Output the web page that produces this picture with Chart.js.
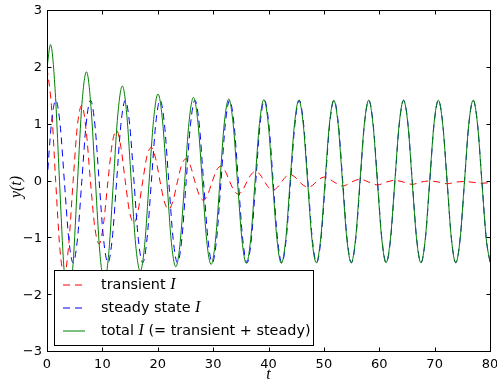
<!DOCTYPE html>
<html>
<head>
<meta charset="utf-8">
<script src="https://cdn.jsdelivr.net/npm/chart.js@4.4.1/dist/chart.umd.min.js"></script>
<style>
  html, body { margin: 0; padding: 0; background: #fff; }
  canvas { display: block; }
</style>
</head>
<body>
<canvas id="myChart" width="497" height="380"></canvas>
<script>
// tick labels
var xTicks = [0, 10, 20, 30, 40, 50, 60, 70, 80];
var yTicks = [-3, -2, -1, 0, 1, 2, 3];

// steady state I
var steadyT = [
  0, 0.79, 1.57, 2.36, 3.14, 3.93, 4.71, 5.50,
  6.28, 7.07, 7.85, 8.64, 9.42, 10.21, 11.00, 11.78,
  12.57, 13.35, 14.14, 14.92, 15.71, 16.49, 17.28, 18.06,
  18.85, 19.63, 20.42, 21.21, 21.99, 22.78, 23.56, 24.35,
  25.13, 25.92, 26.70, 27.49, 28.27, 29.06, 29.85, 30.63,
  31.42, 32.20, 32.99, 33.77, 34.56, 35.34, 36.13, 36.91,
  37.70, 38.48, 39.27, 40.06, 40.84, 41.63, 42.41, 43.20,
  43.98, 44.77, 45.55, 46.34, 47.12, 47.91, 48.69, 49.48,
  50.27, 51.05, 51.84, 52.62, 53.41, 54.19, 54.98, 55.76,
  56.55, 57.33, 58.12, 58.90, 59.69, 60.48, 61.26, 62.05,
  62.83, 63.62, 64.40, 65.19, 65.97, 66.76, 67.54, 68.33,
  69.12, 69.90, 70.69, 71.47, 72.26, 73.04, 73.83, 74.61,
  75.40, 76.18, 76.97, 77.75, 78.54, 79.33, 80
];
var steadyI = [
  0, 1.01, 1.43, 1.01, 0, -1.01, -1.43, -1.01,
  0, 1.01, 1.43, 1.01, 0, -1.01, -1.43, -1.01,
  0, 1.01, 1.43, 1.01, 0, -1.01, -1.43, -1.01,
  0, 1.01, 1.43, 1.01, 0, -1.01, -1.43, -1.01,
  0, 1.01, 1.43, 1.01, 0, -1.01, -1.43, -1.01,
  0, 1.01, 1.43, 1.01, 0, -1.01, -1.43, -1.01,
  0, 1.01, 1.43, 1.01, 0, -1.01, -1.43, -1.01,
  0, 1.01, 1.43, 1.01, 0, -1.01, -1.43, -1.01,
  0, 1.01, 1.43, 1.01, 0, -1.01, -1.43, -1.01,
  0, 1.01, 1.43, 1.01, 0, -1.01, -1.43, -1.01,
  0, 1.01, 1.43, 1.01, 0, -1.01, -1.43, -1.01,
  0, 1.01, 1.43, 1.01, 0, -1.01, -1.43, -1.01,
  0, 1.01, 1.43, 1.01, 0, -1.01, -1.42
];

// transient I
var transT = [
  0, 0.79, 1.57, 2.36, 3.14, 3.93, 4.71, 5.50,
  6.28, 7.07, 7.85, 8.64, 9.42, 10.21, 11.00, 11.78,
  12.57, 13.35, 14.14, 14.92, 15.71, 16.49, 17.28, 18.06,
  18.85, 19.63, 20.42, 21.21, 21.99, 22.78, 23.56, 24.35,
  25.13, 25.92, 26.70, 27.49, 28.27, 29.06, 29.85, 30.63,
  31.42, 32.20, 32.99, 33.77, 34.56, 35.34, 36.13, 36.91,
  37.70, 38.48, 39.27, 40.06, 40.84, 41.63, 42.41, 43.20,
  43.98, 44.77, 45.55, 46.34, 47.12, 47.91, 48.69, 49.48,
  50.27, 51.84, 53.41, 54.98, 56.55, 58.12, 59.69, 61.26,
  62.83, 64.40, 65.97, 67.54, 69.12, 70.69, 72.26, 73.83,
  75.40, 76.97, 78.54, 80
];
var transI = [
  2.00, 1.34, 0, -1.22, -1.64, -1.10, 0, 0.99,
  1.34, 0.90, 0, -0.81, -1.10, -0.74, 0, 0.67,
  0.90, 0.60, 0, -0.54, -0.73, -0.49, 0, 0.45,
  0.60, 0.40, 0, -0.36, -0.49, -0.33, 0, 0.30,
  0.40, 0.27, 0, -0.24, -0.33, -0.22, 0, 0.20,
  0.27, 0.18, 0, -0.16, -0.22, -0.15, 0, 0.13,
  0.18, 0.12, 0, -0.11, -0.15, -0.10, 0, 0.09,
  0.12, 0.08, 0, -0.07, -0.10, -0.07, 0, 0.06,
  0.08, -0.01, -0.08, -0.01, 0.04, -0.01, -0.06, -0.01,
  0.02, -0.01, -0.05, -0.01, 0.01, -0.01, -0.04, -0.01,
  0.00, -0.015, -0.03, -0.02
];

// total I (= transient + steady)
var totalT = [
  0, 0.64, 1.45, 2.26, 3.07, 3.88, 4.70, 5.51,
  6.32, 7.13, 7.94, 8.75, 9.56, 10.37, 11.18, 11.99,
  12.80, 13.61, 14.42, 15.22, 16.03, 16.84, 17.64, 18.44,
  19.25, 20.05, 20.85, 21.66, 22.46, 23.26, 24.06, 24.86,
  25.65, 26.45, 27.25, 28.05, 28.84, 29.64, 30.43, 31.23,
  32.02, 32.82, 33.61, 34.40, 35.20, 35.99, 36.78, 37.57,
  38.37, 39.16, 39.95, 40.74, 41.53, 42.32, 43.11, 43.90,
  44.69, 45.48, 46.27, 47.06, 47.84, 48.63, 49.42, 50.21,
  51.00, 51.79, 52.57, 53.36, 54.15, 54.94, 55.72, 56.51,
  57.30, 58.09, 58.87, 59.66, 60.45, 61.23, 62.02, 62.81,
  63.60, 64.38, 65.17, 65.95, 66.74, 67.52, 68.31, 69.10,
  69.88, 70.67, 71.46, 72.25, 73.03, 73.82, 74.60, 75.39,
  76.17, 76.96, 77.74, 78.53, 79.32, 80
];
var totalI = [
  2.00, 2.41, 1.64, 0, -1.54, -2.12, -1.46, 0,
  1.38, 1.93, 1.32, 0, -1.27, -1.76, -1.23, 0,
  1.19, 1.68, 1.16, 0, -1.13, -1.58, -1.11, 0,
  1.09, 1.54, 1.08, 0, -1.07, -1.50, -1.06, 0,
  1.05, 1.48, 1.04, 0, -1.04, -1.46, -1.03, 0,
  1.03, 1.45, 1.02, 0, -1.02, -1.44, -1.02, 0,
  1.02, 1.44, 1.02, 0, -1.02, -1.44, -1.02, 0,
  1.01, 1.43, 1.01, 0, -1.01, -1.43, -1.01, 0,
  1.01, 1.43, 1.01, 0, -1.01, -1.43, -1.01, 0,
  1.01, 1.43, 1.01, 0, -1.01, -1.43, -1.01, 0,
  1.01, 1.43, 1.01, 0, -1.01, -1.43, -1.01, 0,
  1.01, 1.43, 1.01, 0, -1.01, -1.43, -1.01, 0,
  1.01, 1.43, 1.01, 0, -1.01, -1.42
];

var RED = '#ff0000', BLUE = '#0000ff', GREEN = '#008000';
var DASH = [7, 5];
var TEXT_FONT = '14.4px "DejaVu Sans"';
var MATH_FONT = 'italic 16px "Liberation Serif"';

function pts(ts, ys) {
    return ts.map(function (t, i) { return { x: t, y: ys[i] }; });
}

function line(ctx, x1, y1, x2, y2) {
    ctx.beginPath();
    ctx.moveTo(x1, y1);
    ctx.lineTo(x2, y2);
    ctx.stroke();
}

// draw pieces of text with different fonts one after another
function drawRuns(ctx, x, y, runs) {
    runs.forEach(function (r) {
        ctx.font = r[1];
        ctx.fillText(r[0], x, y);
        x += ctx.measureText(r[0]).width;
    });
}

var legendRows = [
    { color: RED, dash: DASH, runs: [['transient ', TEXT_FONT], ['I', MATH_FONT]] },
    { color: BLUE, dash: DASH, runs: [['steady state ', TEXT_FONT], ['I', MATH_FONT]] },
    { color: GREEN, dash: [], runs: [['total ', TEXT_FONT], ['I', MATH_FONT], [' (= transient + steady)', TEXT_FONT]] }
];

// frame, inward ticks, legend box and axis labels (matplotlib look)
var framePlugin = {
    id: 'frame',
    afterDraw: function (chart) {
        var ctx = chart.ctx, a = chart.chartArea;
        var xs = chart.scales.x, ys = chart.scales.y;
        var L = Math.floor(a.left) + 0.5, R = Math.floor(a.right) + 0.5;
        var T = Math.floor(a.top) - 0.5, B = Math.floor(a.bottom) - 0.5;
        ctx.save();

        // legend
        ctx.fillStyle = '#fff';
        ctx.fillRect(54.5, 270.5, 259, 75);
        ctx.strokeStyle = '#000';
        ctx.lineWidth = 1;
        ctx.setLineDash([]);
        ctx.strokeRect(54.5, 270.5, 259, 75);
        ctx.textBaseline = 'middle';
        ctx.textAlign = 'left';
        legendRows.forEach(function (row, i) {
            var y = 285 + i * 23;
            ctx.strokeStyle = row.color;
            ctx.setLineDash(row.dash);
            line(ctx, 63, y, 85, y);
            ctx.fillStyle = '#000';
            drawRuns(ctx, 101, y, row.runs);
        });

        // axes frame
        ctx.setLineDash([]);
        ctx.strokeStyle = '#000';
        ctx.strokeRect(L, T, R - L, B - T);

        // ticks pointing inwards, all four sides
        xTicks.forEach(function (v) {
            var px = Math.round(xs.getPixelForValue(v)) + 0.5;
            line(ctx, px, B, px, B - 4);
            line(ctx, px, T, px, T + 4);
        });
        yTicks.forEach(function (v) {
            var py = Math.round(ys.getPixelForValue(v)) - 0.5;
            line(ctx, L, py, L + 4, py);
            line(ctx, R, py, R - 4, py);
        });

        // axis labels
        ctx.fillStyle = '#000';
        ctx.textAlign = 'center';
        ctx.font = MATH_FONT;
        ctx.fillText('t', (a.left + a.right) / 2, 375);
        ctx.translate(17, 187);
        ctx.rotate(-Math.PI / 2);
        ctx.fillText('y(t)', 0, 0);
        ctx.restore();
    }
};

var ctx = document.getElementById('myChart').getContext('2d');

new Chart(ctx, {
    type: 'line',
    data: {
        datasets: [{
            label: 'total I (= transient + steady)',
            data: pts(totalT, totalI),
            borderColor: GREEN,
            borderWidth: 1,
            order: 1
        }, {
            label: 'steady state I',
            data: pts(steadyT, steadyI),
            borderColor: BLUE,
            borderWidth: 1,
            borderDash: DASH,
            order: 2
        }, {
            label: 'transient I',
            data: pts(transT, transI),
            borderColor: RED,
            borderWidth: 1,
            borderDash: DASH,
            order: 3
        }]
    },
    options: {
        responsive: false,
        animation: false,
        devicePixelRatio: 1,
        elements: {
            line: { cubicInterpolationMode: 'monotone', fill: false },
            point: { radius: 0 }
        },
        layout: { padding: { left: 0, right: 7, top: 11, bottom: 0 } },
        plugins: {
            legend: { display: false },
            tooltip: { enabled: false }
        },
        scales: {
            x: {
                type: 'linear',
                min: 0,
                max: 80,
                afterFit: function (s) { s.height = 28; s.paddingLeft = 0; s.paddingRight = 0; },
                grid: { display: false, drawTicks: false },
                border: { display: false },
                ticks: {
                    stepSize: 10,
                    padding: 5,
                    maxRotation: 0,
                    color: '#000',
                    font: { family: 'DejaVu Sans', size: 13 }
                }
            },
            y: {
                min: -3,
                max: 3,
                afterFit: function (s) { s.width = 47; s.paddingTop = 0; s.paddingBottom = 0; },
                grid: { display: false, drawTicks: false },
                border: { display: false },
                ticks: {
                    stepSize: 1,
                    padding: 5,
                    color: '#000',
                    font: { family: 'DejaVu Sans', size: 13 },
                    callback: function (v) { return v < 0 ? '\u2212' + Math.abs(v) : String(v); }
                }
            }
        }
    },
    plugins: [framePlugin]
});
</script>
</body>
</html>
